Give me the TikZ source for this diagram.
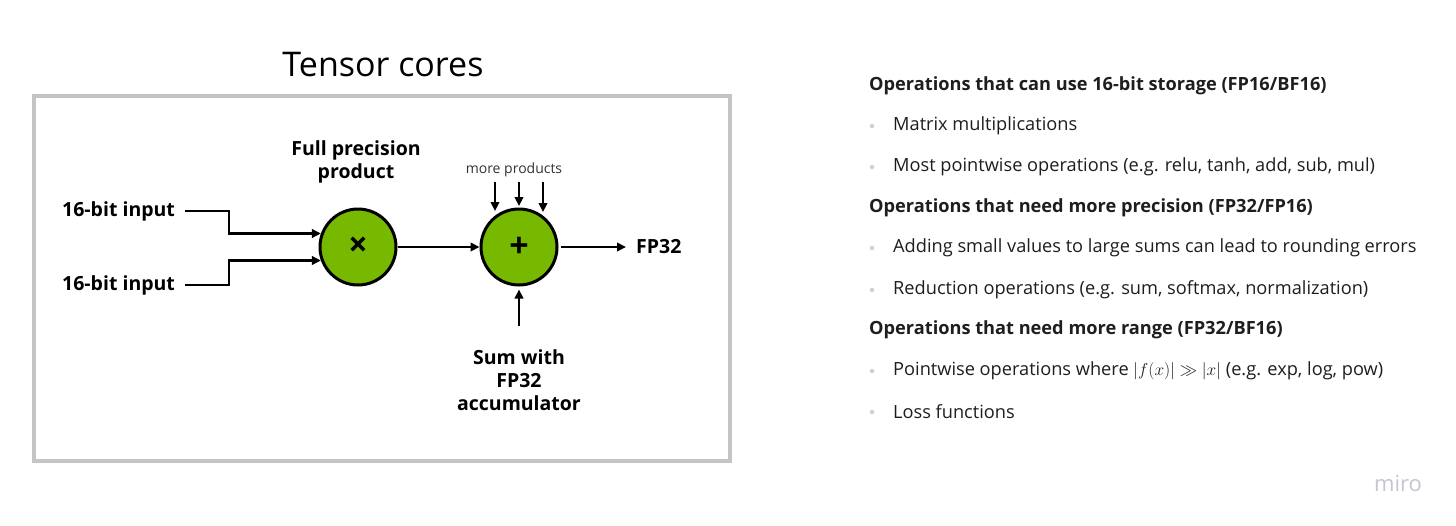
\documentclass[tikz,border=0pt]{standalone}
\usepackage{fontspec}
\setmainfont{Open Sans}
\usetikzlibrary{arrows.meta}
\definecolor{nvgreen}{HTML}{76B900}
\definecolor{boxgray}{HTML}{C4C4C4}
\definecolor{txt}{HTML}{1E1E1E}
\definecolor{bul}{HTML}{D0D0D0}
\definecolor{miro}{HTML}{C4C6D0}
\begin{document}
\begin{tikzpicture}[x=1pt,y=-1pt,
  conn/.style={line width=2.8pt, -{Triangle[length=9pt,width=8.5pt]}},
  op/.style={circle, draw=black, line width=3pt, fill=nvgreen, minimum size=76pt, inner sep=0pt, font=\bfseries\fontsize{34}{34}\selectfont},
  lbl/.style={font=\bfseries\fontsize{19.5}{23}\selectfont, align=center, inner sep=0pt},
  hdr/.style={anchor=west, text=txt, font=\bfseries\fontsize{18.2}{20}\selectfont, inner sep=0pt},
  itm/.style={anchor=west, text=txt, font=\fontsize{18.2}{20}\selectfont, inner sep=0pt},
  bdot/.style={circle, fill=bul, inner sep=0pt, minimum size=4.5pt}
]
\useasboundingbox[fill=white] (0,0) rectangle (1456,525);

% frame and title
\draw[line width=4pt, draw=boxgray] (34,96) rectangle (730,461);
\node[font=\fontsize{34}{40}\selectfont, inner sep=0pt] (title) at (383,65) {Tensor cores};

% operators
\node[op] (mul) at (358,247) {×};
\node[op] (add) at (519,247) {+};

% labels
\node[lbl, anchor=west] (in1) at (62,211) {16-bit input};
\node[lbl, anchor=west] (in2) at (62,285) {16-bit input};
\node[lbl] (fpp) at (356,162) {Full precision\\product};
\node[lbl, anchor=west] (fp) at (636,247) {FP32};
\node[lbl] (sum) at (519,380) {Sum with\\FP32\\accumulator};
\node[font=\fontsize{14}{15}\selectfont, text=black!80, inner sep=0pt] (mp) at (514,170) {more products};

% connectors
\coordinate (k1) at (229,222);
\coordinate (k2) at (229,275);
\draw[conn] ([xshift=10pt]in1.east) -| (k1) |- (mul.160);
\draw[conn] ([xshift=10pt]in2.east) -| (k2) |- (mul.200);
\draw[conn] (mul) -- (add);
\draw[conn, shorten <=2pt, shorten >=10pt] (add.east) -- (fp.west);

\coordinate (p1s) at (495,182); \coordinate (p1e) at (495,211);
\coordinate (p2s) at (519,182); \coordinate (p2e) at (519,206);
\coordinate (p3s) at (543,182); \coordinate (p3e) at (543,212);
\draw[conn] (p1s) -- (p1e);
\draw[conn] (p2s) -- (p2e);
\draw[conn] (p3s) -- (p3e);
\coordinate (sb) at (519,326);
\draw[conn, shorten >=3pt] (sb) -- (add.south);

% right-hand list
\node[hdr] (h1) at (869,86) {Operations that can use 16-bit storage (FP16/BF16)};
\node[bdot] (d1) at (872,126) {}; \node[itm] (t1) at (893,126) {Matrix multiplications};
\node[bdot] (d2) at (872,167) {}; \node[itm] (t2) at (893,167) {Most pointwise operations (e.g. relu, tanh, add, sub, mul)};
\node[hdr] (h2) at (869,208) {Operations that need more precision (FP32/FP16)};
\node[bdot] (d3) at (872,248) {}; \node[itm] (t3) at (893,248) {Adding small values to large sums can lead to rounding errors};
\node[bdot] (d4) at (872,290) {}; \node[itm] (t4) at (893,290) {Reduction operations (e.g. sum, softmax, normalization)};
\node[hdr] (h3) at (869,330) {Operations that need more range (FP32/BF16)};
\node[bdot] (d5) at (872,371) {}; \node[itm] (t5) at (893,371) {Pointwise operations where $|f(x)| \gg |x|$ (e.g. exp, log, pow)};
\node[bdot] (d6) at (872,412) {}; \node[itm] (t6) at (893,412) {Loss functions};

\node[font=\fontsize{22}{24}\selectfont, text=miro, inner sep=0pt] (m) at (1398,484) {miro};
\end{tikzpicture}
\end{document}
